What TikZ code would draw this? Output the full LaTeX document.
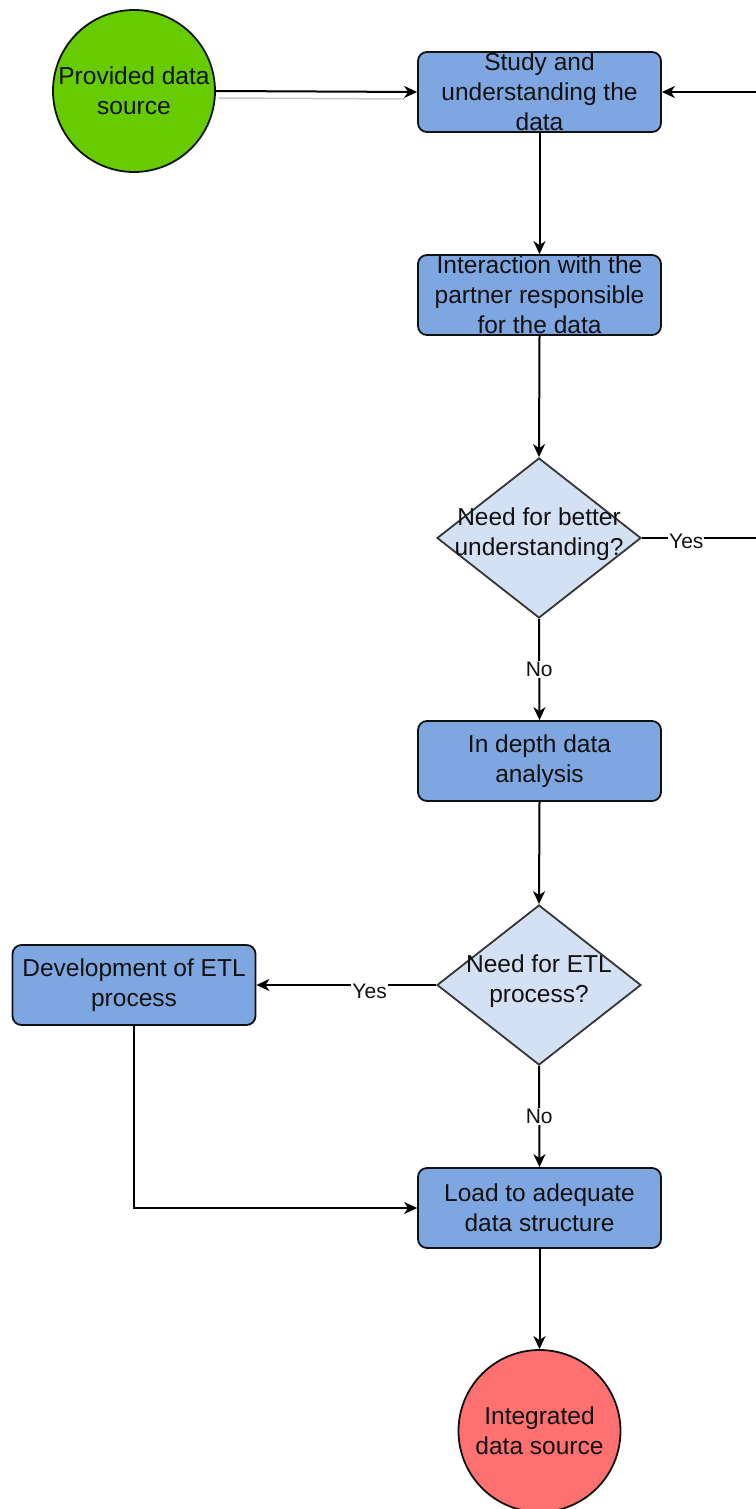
\documentclass[tikz,border=0pt]{standalone}
\usepackage{fontspec}
\setmainfont{Liberation Sans}
\usetikzlibrary{shapes.geometric,arrows.meta}
\definecolor{boxblue}{HTML}{7EA6E0}
\definecolor{diafill}{HTML}{D4E1F5}
\definecolor{srcgreen}{HTML}{66CC00}
\definecolor{sinkred}{HTML}{FF7070}
\definecolor{ink}{HTML}{111111}
\begin{document}
\begin{tikzpicture}[x=1pt,y=-1pt,
  every node/.style={font=\fontsize{24.5}{30}\selectfont, text=ink},
  txt/.style={align=center, inner sep=0pt},
  box/.style={draw=ink, line width=1.8pt, fill=boxblue, rounded corners=9pt,
    minimum width=243pt, minimum height=80pt, inner sep=0pt},
  decision/.style={diamond, draw=ink!85, line width=1.8pt, fill=diafill,
    minimum width=204pt, minimum height=160pt, inner sep=0pt},
  terminal/.style={circle, draw=ink, line width=1.8pt, minimum size=162pt,
    inner sep=0pt, align=center},
  arr/.style={draw=black, line width=2pt, -{Stealth[length=13pt,width=12pt,inset=4pt]}},
  lbl/.style={fill=white, inner sep=1pt, font=\fontsize{21}{25}\selectfont}
]
\useasboundingbox (0,0) rectangle (755,1509);

% nodes
\node[terminal, fill=srcgreen] (src) at (134,91) {Provided data\\source};
\node[box, label={[txt]center:Study and\\understanding the\\data}] (study) at (539.5,92) {};
\node[box, label={[txt]center:Interaction with the\\partner responsible\\for the data}] (partner) at (539.5,295) {};
\node[decision, label={[txt, yshift=4pt]center:Need for better\\understanding?}] (need1) at (539,538) {};
\node[box, label={[txt]center:In depth data\\analysis}] (analysis) at (539.5,761) {};
\node[decision, label={[txt, yshift=4pt]center:Need for ETL\\process?}] (need2) at (539,985) {};
\node[box, label={[txt]center:Development of ETL\\process}] (etl) at (134,985) {};
\node[box, label={[txt]center:Load to adequate\\data structure}] (load) at (539.5,1208) {};
\node[terminal, fill=sinkred] (sink) at (539.5,1431) {Integrated\\data source};

% loop-back corner points beyond the right edge
\coordinate (loopR) at (762,538);
\coordinate (loopT) at (762,92);

% connectors
\draw[gray!45, line width=1.5pt] ([shift={(3,7)}]src.east) -- ([shift={(-13,7)}]study.west);
\draw[arr] (src.east) -- (study.west);
\draw[arr] (study.south) -- (partner.north);
\draw[arr] (partner.south) -- (need1.north);
\draw[arr] (need1.east) -- node[lbl, pos=0.37, yshift=-3pt] {Yes} (loopR) -- (loopT) -- (study.east);
\draw[arr] (need1.south) -- node[lbl] {No} (analysis.north);
\draw[arr] (analysis.south) -- (need2.north);
\draw[arr] (need2.west) -- node[lbl, pos=0.37, yshift=-6pt] {Yes} (etl.east);
\draw[arr] (need2.south) -- node[lbl] {No} (load.north);
\draw[arr] (etl.south) |- (load.west);
\draw[arr] (load.south) -- (sink.north);
\end{tikzpicture}
\end{document}
